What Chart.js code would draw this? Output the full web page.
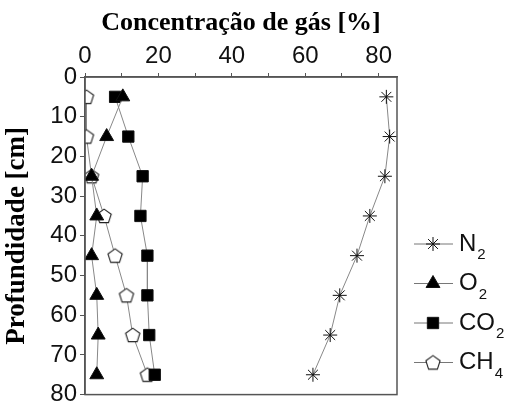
<!DOCTYPE html>
<html>
<head>
<meta charset="utf-8">
<script src="https://cdn.jsdelivr.net/npm/chart.js@4/dist/chart.umd.min.js"></script>
<style>
  html, body { margin: 0; padding: 0; background: #fff; }
  #wrap { width: 510px; height: 412px; position: relative; }
</style>
</head>
<body>
<div id="wrap"><canvas id="myChart" width="510" height="412"></canvas></div>
<script>
// depths (cm) and gas concentrations (%)
var depths = [5, 15, 25, 35, 45, 55, 65, 75];
var n2  = [82.1, 83.0, 81.7, 77.6, 74.1, 69.4, 66.8, 62.1];
var o2  = [10.3, 5.9, 1.8, 3.2, 1.8, 3.2, 3.6, 3.2];
var co2 = [8.2, 11.8, 15.7, 15.1, 17.0, 17.0, 17.5, 19.0];
var ch4 = [0.4, 0.4, 1.8, 5.2, 8.2, 11.3, 13.0, 17.0];
var gasNames = ['N', 'O', 'CO', 'CH'];
var gasSubs = ['2', '2', '2', '4'];
var xTicks = [0, 20, 40, 60, 80];

// pentagon marker, there is no built-in one
var pent = document.createElement('canvas');
pent.width = 18; pent.height = 18;
var pc = pent.getContext('2d');
pc.beginPath();
for (var i = 0; i < 5; i++) {
  var a = -Math.PI / 2 + i * 2 * Math.PI / 5;
  var px = 9 + 7.5 * Math.cos(a), py = 9.6 + 7.5 * Math.sin(a);
  if (i == 0) pc.moveTo(px, py); else pc.lineTo(px, py);
}
pc.closePath();
pc.fillStyle = '#fff';
pc.fill();
pc.lineWidth = 1.1;
pc.strokeStyle = '#222';
pc.stroke();

function pts(vals) {
  return vals.map(function(v, i){ return {x: v, y: depths[i]}; });
}

function ds(vals, style, r, fill) {
  return {
    data: pts(vals),
    showLine: true,
    borderColor: '#888',
    borderWidth: 1,
    pointStyle: style,
    pointRadius: r,
    pointHoverRadius: r,
    pointBackgroundColor: fill,
    pointBorderColor: '#111',
    pointBorderWidth: 1
  };
}

var datasets = [
  ds(n2, 'star', 7, '#111'),
  ds(o2, 'triangle', 8, '#000'),
  ds(co2, 'rect', 8, '#000'),
  ds(ch4, pent, 8, '#fff')
];

// frame + legend with subscripts
var extras = {
  id: 'extras',
  afterDraw: function(chart) {
    var ctx = chart.ctx, a = chart.chartArea;
    ctx.save();
    ctx.strokeStyle = '#555';
    ctx.lineWidth = 1.5;
    ctx.strokeRect(a.left, a.top, a.right - a.left, a.bottom - a.top);

    var y0 = 244, step = 39.5;
    for (var i = 0; i < 4; i++) {
      var y = y0 + i * step;
      ctx.strokeStyle = '#777';
      ctx.lineWidth = 1;
      ctx.beginPath();
      ctx.moveTo(414, y); ctx.lineTo(453, y);
      ctx.stroke();
      var d = chart.data.datasets[i];
      ctx.fillStyle = d.pointBackgroundColor;
      ctx.strokeStyle = d.pointBorderColor;
      ctx.lineWidth = 1;
      Chart.helpers.drawPoint(ctx, {pointStyle: d.pointStyle, radius: d.pointRadius, borderWidth: 1}, 433, y);
      ctx.fillStyle = '#111';
      ctx.textBaseline = 'middle';
      ctx.font = '24px "Liberation Sans", Arial';
      ctx.fillText(gasNames[i], 459, y);
      var w = ctx.measureText(gasNames[i]).width;
      ctx.font = '15px "Liberation Sans", Arial';
      ctx.fillText(gasSubs[i], 459 + w + 1, y + 11);
    }
    ctx.restore();
  }
};

var ctx = document.getElementById('myChart').getContext('2d');
var chart = new Chart(ctx, {
  type: 'scatter',
  data: { datasets: datasets },
  options: {
    responsive: false,
    animation: false,
    layout: { padding: { right: 113, bottom: 7, top: 0, left: 0 } },
    plugins: { legend: { display: false }, tooltip: { enabled: false } },
    scales: {
      x: {
        position: 'top',
        min: 0, max: 85,
        afterFit: function(s){ s.height = 77; },
        title: {
          display: true,
          text: 'Concentração de gás [%]',
          color: '#000',
          font: { family: '"Liberation Serif", "Times New Roman"', size: 26, weight: 'bold' },
          padding: { top: 8, bottom: 0 }
        },
        grid: { drawOnChartArea: false, tickLength: 4, color: '#555' },
        border: { color: '#555', width: 1.5 },
        ticks: {
          stepSize: 10,
          includeBounds: false,
          maxRotation: 0,
          autoSkip: false,
          padding: 2,
          color: '#111',
          font: { family: '"Liberation Sans", Arial', size: 24 },
          callback: function(v){ return xTicks.indexOf(v) >= 0 ? v : ''; }
        }
      },
      y: {
        reverse: true,
        min: 0, max: 80,
        afterFit: function(s){ s.width = 85; },
        title: {
          display: true,
          text: 'Profundidade [cm]',
          color: '#000',
          font: { family: '"Liberation Serif", "Times New Roman"', size: 27, weight: 'bold' },
          padding: { top: 1, bottom: 0 }
        },
        grid: { drawOnChartArea: false, tickLength: 5, color: '#555' },
        border: { color: '#555', width: 1.5 },
        ticks: {
          stepSize: 10,
          padding: 3,
          color: '#111',
          font: { family: '"Liberation Sans", Arial', size: 24 }
        }
      }
    }
  },
  plugins: [extras]
});
</script>
</body>
</html>
